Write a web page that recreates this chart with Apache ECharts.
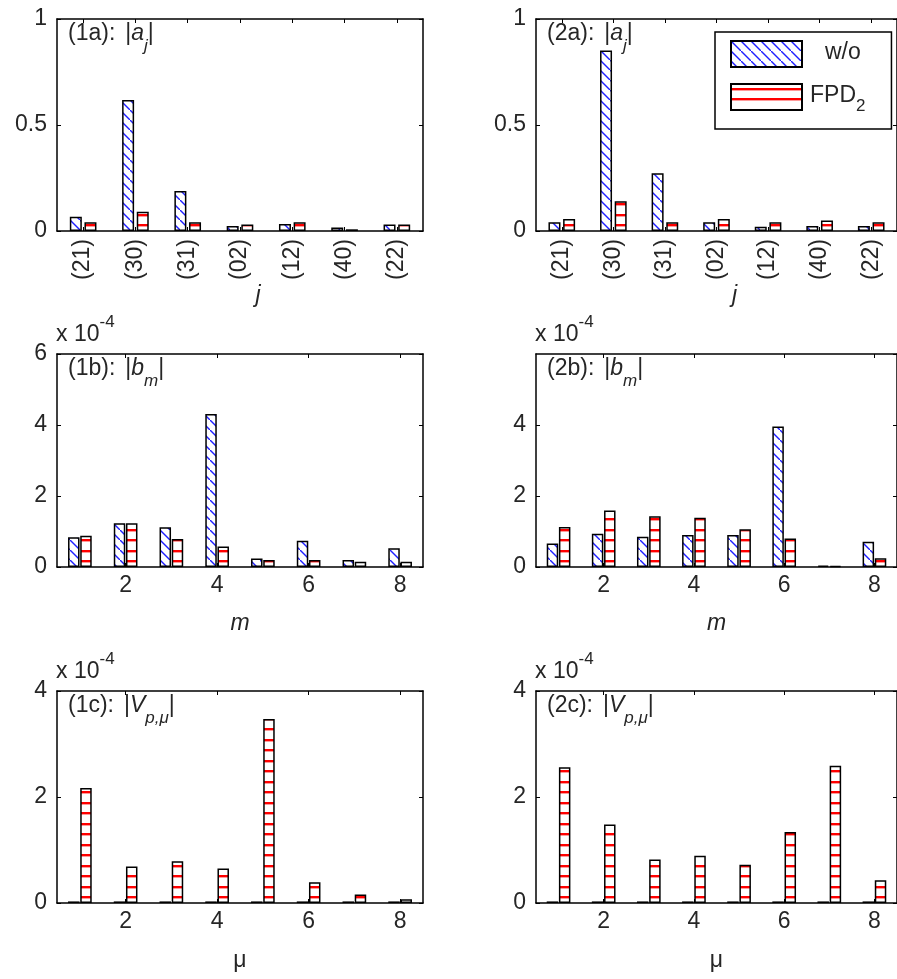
<!DOCTYPE html>
<html>
<head>
<meta charset="utf-8">
<script src="https://cdn.jsdelivr.net/npm/echarts@6/dist/echarts.min.js"></script>
<style>
html, body { margin: 0; padding: 0; background: #fff; }
#main { width: 897px; height: 979px; }
</style>
</head>
<body>
<div id="main"></div>
<script>
// categories
var jLabels = ['(21)', '(30)', '(31)', '(02)', '(12)', '(40)', '(22)'];
var idx8 = ['1', '2', '3', '4', '5', '6', '7', '8'];

// |a_j|
var a1_wo  = [0.067, 0.618, 0.189, 0.024, 0.033, 0.016, 0.031];
var a1_fpd = [0.041, 0.091, 0.041, 0.031, 0.041, 0.008, 0.031];
var a2_wo  = [0.041, 0.851, 0.272, 0.041, 0.020, 0.024, 0.024];
var a2_fpd = [0.057, 0.140, 0.041, 0.057, 0.041, 0.049, 0.041];
// |b_m|  (x 10^-4)
var b1_wo  = [0.84, 1.23, 1.12, 4.31, 0.24, 0.74, 0.20, 0.53];
var b1_fpd = [0.88, 1.23, 0.79, 0.58, 0.20, 0.20, 0.15, 0.15];
var b2_wo  = [0.66, 0.94, 0.85, 0.90, 0.90, 3.96, 0.04, 0.71];
var b2_fpd = [1.13, 1.59, 1.43, 1.39, 1.06, 0.80, 0.03, 0.25];
// |V_p,mu|  (x 10^-4)
var c1_wo  = [0.03, 0.03, 0.03, 0.03, 0.03, 0.03, 0.03, 0.03];
var c1_fpd = [2.17, 0.69, 0.79, 0.65, 3.47, 0.39, 0.16, 0.07];
var c2_wo  = [0.03, 0.03, 0.03, 0.03, 0.03, 0.03, 0.03, 0.03];
var c2_fpd = [2.56, 1.48, 0.82, 0.89, 0.72, 1.34, 2.59, 0.43];

// y axis limits / steps per row
var yMax = [1, 6, 4];
var yStep = [0.5, 2, 2];

var FONT = 'Liberation Sans, Arial, sans-serif';
var TXT = '#262626';
var FS = 23;

function hatchDiag() {
  var s = 10, c = document.createElement('canvas');
  c.width = s; c.height = s;
  var g = c.getContext('2d');
  g.fillStyle = '#fff'; g.fillRect(0, 0, s, s);
  g.strokeStyle = '#1f1fff'; g.lineWidth = 1.4;
  g.beginPath(); g.moveTo(-1, -1); g.lineTo(s + 1, s + 1); g.stroke();
  return c;
}
function hatchHoriz() {
  var c = document.createElement('canvas');
  c.width = 8; c.height = 21;
  var g = c.getContext('2d');
  g.fillStyle = '#fff'; g.fillRect(0, 0, 8, 21);
  g.fillStyle = '#ff0000'; g.fillRect(0, 4, 8, 2); g.fillRect(0, 14, 8, 2);
  g.fillStyle = '#ff9a9a'; g.fillRect(0, 6, 8, 1); g.fillRect(0, 16, 8, 1);
  return c;
}
var blueFill = { image: hatchDiag(), repeat: 'repeat' };
var redFill = { image: hatchHoriz(), repeat: 'repeat' };

var chart = echarts.init(document.getElementById('main'));

var lefts = [57, 536], tops = [19, 354, 691], heights = [212, 213, 212];
var panels = [
  { r: 0, c: 0, wo: a1_wo, fpd: a1_fpd, tag: '1a' },
  { r: 0, c: 1, wo: a2_wo, fpd: a2_fpd, tag: '2a' },
  { r: 1, c: 0, wo: b1_wo, fpd: b1_fpd, tag: '1b' },
  { r: 1, c: 1, wo: b2_wo, fpd: b2_fpd, tag: '2b' },
  { r: 2, c: 0, wo: c1_wo, fpd: c1_fpd, tag: '1c' },
  { r: 2, c: 1, wo: c2_wo, fpd: c2_fpd, tag: '2c' }
];
var axisNames = ['j', 'm', 'μ'];
var nameGaps = [50, 45, 46];

var grid = [], xAxis = [], yAxis = [], series = [], title = [];
var line = { show: true, onZero: false, lineStyle: { color: '#000', width: 1.5 } };
var evenOnly = function (i) { return i % 2 === 1; };
function txt(extra) {
  return Object.assign({ fontSize: FS, color: TXT, fontFamily: FONT, fontWeight: 'normal' }, extra);
}

panels.forEach(function (p, k) {
  grid.push({ left: lefts[p.c], top: tops[p.r], width: 366, height: heights[p.r] });
  var cats = p.r === 0 ? jLabels : idx8;
  var tickInt = p.r === 0 ? 0 : evenOnly;
  var tick = { show: true, inside: true, length: 4, alignWithLabel: true, interval: tickInt,
    lineStyle: { color: '#000', width: 1 } };
  xAxis.push({
    type: 'category', gridIndex: k, data: cats, axisLine: line, axisTick: tick,
    axisLabel: txt({ interval: tickInt, rotate: p.r === 0 ? 90 : 0, margin: p.r === 0 ? 8 : 7 }),
    name: axisNames[p.r], nameLocation: 'middle', nameGap: nameGaps[p.r],
    nameTextStyle: txt({
      fontStyle: p.r === 2 ? 'normal' : 'italic',
      padding: p.r === 0 ? [0, 0, 0, 36] : 0
    })
  });
  xAxis.push({
    type: 'category', gridIndex: k, data: cats, position: 'top', axisLine: line,
    axisTick: tick, axisLabel: { show: false }
  });
  var yTick = { show: true, inside: true, length: 4, lineStyle: { color: '#000', width: 1 } };
  yAxis.push({
    type: 'value', gridIndex: k, min: 0, max: yMax[p.r], interval: yStep[p.r],
    axisLine: line, axisTick: yTick, splitLine: { show: false },
    axisLabel: txt({ margin: 10, showMaxLabel: p.tag !== '2b' })
  });
  yAxis.push({
    type: 'value', gridIndex: k, min: 0, max: yMax[p.r], interval: yStep[p.r], position: 'right',
    axisLine: line, axisTick: yTick, splitLine: { show: false }, axisLabel: { show: false }
  });
  var common = {
    type: 'bar', xAxisIndex: 2 * k, yAxisIndex: 2 * k, barWidth: p.r === 0 ? 12 : 11.5,
    barGap: p.r === 0 ? '22%' : '6%', animation: false, silent: true
  };
  series.push(Object.assign({}, common, {
    name: 'w/o', data: p.wo,
    itemStyle: { color: blueFill, borderColor: '#000', borderWidth: 1.5 }
  }));
  series.push(Object.assign({}, common, {
    name: 'FPD2', data: p.fpd,
    itemStyle: { color: redFill, borderColor: '#000', borderWidth: 1.5 }
  }));

  // panel label
  var sym = p.r === 0 ? '{i|a}{s|j}' : p.r === 1 ? '{i|b}{s|m}' : '{i|V}{s|p,μ}';
  title.push({
    left: lefts[p.c] + 11, top: tops[p.r] + 3, padding: 0,
    text: '{n|(' + p.tag + '):}{g|}{n||}' + sym + '{n||}',
    textStyle: {
      fontWeight: 'normal',
      rich: {
        n: txt({ lineHeight: 26, verticalAlign: 'top' }),
        g: { width: 10, lineHeight: 26, verticalAlign: 'top' },
        i: txt({ fontStyle: 'italic', lineHeight: 26, verticalAlign: 'top' }),
        s: txt({ fontSize: 17, fontStyle: 'italic', lineHeight: 20, padding: [16, 0, 0, 0], verticalAlign: 'top' })
      }
    }
  });
  // exponent label
  if (p.r > 0) {
    title.push({
      left: lefts[p.c] - 1, top: tops[p.r] - 40, padding: 0,
      text: '{n|x 10}{e|-4}',
      textStyle: {
        fontWeight: 'normal',
        rich: {
          n: txt({ lineHeight: 24, padding: [9, 0, 0, 0], verticalAlign: 'top' }),
          e: txt({ fontSize: 17, lineHeight: 20, verticalAlign: 'top' })
        }
      }
    });
  }
});

var option = {
  backgroundColor: '#fff',
  animation: false,
  title: title,
  grid: grid,
  xAxis: xAxis,
  yAxis: yAxis,
  legend: {
    data: ['w/o', 'FPD2'], orient: 'vertical', left: 715, top: 32,
    icon: 'rect', itemWidth: 71, itemHeight: 26, itemGap: 15,
    padding: [8, 26, 14, 15], borderColor: '#000', borderWidth: 1.5, backgroundColor: '#fff',
    selectedMode: false,
    formatter: function (name) { return name === 'FPD2' ? '{n|FPD}{s|2}' : '{w|w/o}'; },
    textStyle: {
      rich: {
        n: txt({ lineHeight: 26, verticalAlign: 'top', padding: [0, 0, 0, 3] }),
        w: txt({ lineHeight: 26, verticalAlign: 'top', padding: [0, 0, 0, 18] }),
        s: txt({ fontSize: 17, lineHeight: 20, padding: [14, 0, 0, 0], verticalAlign: 'top' })
      }
    }
  },
  series: series
};
chart.setOption(option);
</script>
</body>
</html>
